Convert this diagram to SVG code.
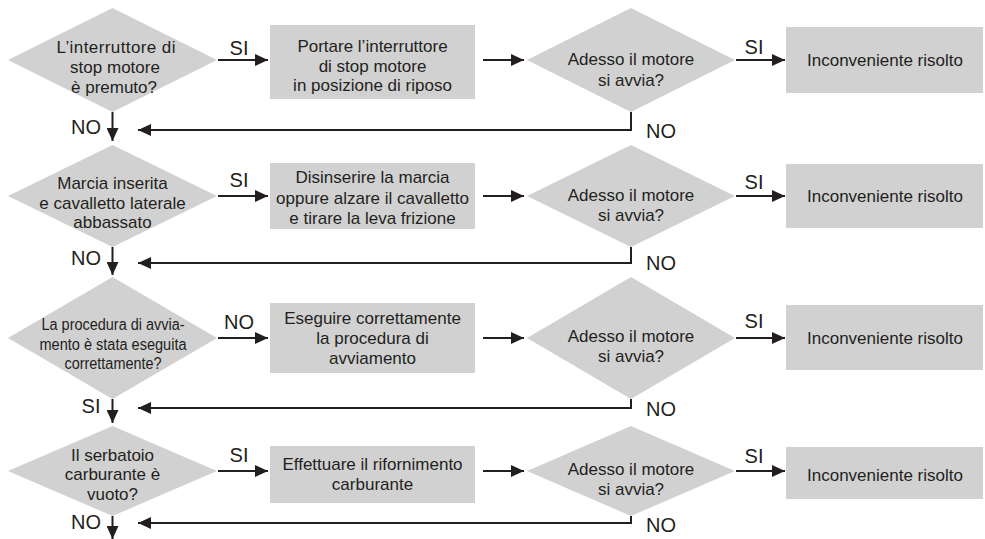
<svg xmlns="http://www.w3.org/2000/svg" width="985" height="539" viewBox="0 0 985 539">
<defs>
<style>
.shape{fill:#d1d1d1;stroke:none}
.t{font-family:"Liberation Sans",Arial,sans-serif;font-size:17px;fill:#231f20;text-anchor:middle}
.c{font-size:16px}
.lbl{font-family:"Liberation Sans",Arial,sans-serif;font-size:20px;fill:#231f20;text-anchor:middle}
.ln{fill:none;stroke:#231f20;stroke-width:2}
</style>
<marker id="ah" markerUnits="userSpaceOnUse" markerWidth="14" markerHeight="12" refX="13" refY="6" orient="auto">
<path d="M0,0 L13,6 L0,12 Z" fill="#231f20"/>
</marker>
</defs>
<rect width="985" height="539" fill="#ffffff"/>

<!-- Row 1 -->
<g id="q1">
<polygon class="shape" points="8,60 112.5,8 217,60 112.5,112"/>
<text class="t" x="116" y="53" textLength="119" lengthAdjust="spacing">L’interruttore di</text>
<text class="t" x="115" y="73">stop motore</text>
<text class="t" x="114" y="93">è premuto?</text>
</g>
<g id="a1">
<rect class="shape" x="270" y="25" width="205" height="74"/>
<text class="t" x="372.5" y="52">Portare l’interruttore</text>
<text class="t" x="372.5" y="72">di stop motore</text>
<text class="t" x="372.5" y="91">in posizione di riposo</text>
</g>
<g id="c1">
<polygon class="shape" points="527,60 631,8 735,60 631,112"/>
<text class="t" x="631" y="65">Adesso il motore</text>
<text class="t" x="631" y="86">si avvia?</text>
</g>
<g id="r1">
<rect class="shape" x="786" y="27" width="197" height="66"/>
<text class="t" x="885" y="66">Inconveniente risolto</text>
</g>

<!-- Row 2 -->
<g id="q2">
<polygon class="shape" points="8,196 112.5,145 217,196 112.5,247"/>
<text class="t" x="112.5" y="189">Marcia inserita</text>
<text class="t" x="112.5" y="209">e cavalletto laterale</text>
<text class="t" x="112.5" y="228">abbassato</text>
</g>
<g id="a2">
<rect class="shape" x="270" y="163" width="205" height="66"/>
<text class="t" x="372.5" y="183">Disinserire la marcia</text>
<text class="t" x="372.5" y="204">oppure alzare il cavalletto</text>
<text class="t" x="372.5" y="224">e tirare la leva frizione</text>
</g>
<g id="c2">
<polygon class="shape" points="527,196 631,145 735,196 631,247"/>
<text class="t" x="631" y="201">Adesso il motore</text>
<text class="t" x="631" y="221">si avvia?</text>
</g>
<g id="r2">
<rect class="shape" x="786" y="164" width="197" height="64"/>
<text class="t" x="885" y="202">Inconveniente risolto</text>
</g>

<!-- Row 3 -->
<g id="q3">
<polygon class="shape" points="8,338 112.5,277 217,338 112.5,399"/>
<text class="t c" x="113" y="330" textLength="143" lengthAdjust="spacingAndGlyphs">La procedura di avvia-</text>
<text class="t c" x="113" y="350" textLength="147" lengthAdjust="spacingAndGlyphs">mento è stata eseguita</text>
<text class="t c" x="113" y="369" textLength="97" lengthAdjust="spacingAndGlyphs">correttamente?</text>
</g>
<g id="a3">
<rect class="shape" x="270" y="303" width="205" height="70"/>
<text class="t" x="372.5" y="324">Eseguire correttamente</text>
<text class="t" x="372.5" y="344">la procedura di</text>
<text class="t" x="372.5" y="364">avviamento</text>
</g>
<g id="c3">
<polygon class="shape" points="527,338 631,277 735,338 631,399"/>
<text class="t" x="631" y="342">Adesso il motore</text>
<text class="t" x="631" y="362">si avvia?</text>
</g>
<g id="r3">
<rect class="shape" x="786" y="305" width="197" height="65"/>
<text class="t" x="885" y="344">Inconveniente risolto</text>
</g>

<!-- Row 4 -->
<g id="q4">
<polygon class="shape" points="8,471 112.5,426 217,471 112.5,516"/>
<text class="t" x="112.5" y="461">Il serbatoio</text>
<text class="t" x="112.5" y="480">carburante è</text>
<text class="t" x="112.5" y="500">vuoto?</text>
</g>
<g id="a4">
<rect class="shape" x="270" y="446" width="205" height="57"/>
<text class="t" x="372.5" y="470">Effettuare il rifornimento</text>
<text class="t" x="372.5" y="490">carburante</text>
</g>
<g id="c4">
<polygon class="shape" points="527,471 631,426 735,471 631,516"/>
<text class="t" x="631" y="475">Adesso il motore</text>
<text class="t" x="631" y="495">si avvia?</text>
</g>
<g id="r4">
<rect class="shape" x="786" y="447" width="197" height="52"/>
<text class="t" x="885" y="481">Inconveniente risolto</text>
</g>

<g id="connectors">
<!-- row 1 -->
<line class="ln" x1="218" y1="60" x2="268" y2="60" marker-end="url(#ah)"/>
<line class="ln" x1="483" y1="60" x2="524" y2="60" marker-end="url(#ah)"/>
<line class="ln" x1="736" y1="60" x2="785" y2="60" marker-end="url(#ah)"/>
<polyline class="ln" points="631,112 631,130 138,130" marker-end="url(#ah)"/>
<line class="ln" x1="112.5" y1="112" x2="112.5" y2="141" marker-end="url(#ah)"/>
<!-- row 2 -->
<line class="ln" x1="218" y1="196" x2="268" y2="196" marker-end="url(#ah)"/>
<line class="ln" x1="483" y1="196" x2="524" y2="196" marker-end="url(#ah)"/>
<line class="ln" x1="736" y1="196" x2="785" y2="196" marker-end="url(#ah)"/>
<polyline class="ln" points="631,247 631,263 138,263" marker-end="url(#ah)"/>
<line class="ln" x1="112.5" y1="247" x2="112.5" y2="275" marker-end="url(#ah)"/>
<!-- row 3 -->
<line class="ln" x1="218" y1="338" x2="268" y2="338" marker-end="url(#ah)"/>
<line class="ln" x1="483" y1="338" x2="524" y2="338" marker-end="url(#ah)"/>
<line class="ln" x1="736" y1="338" x2="785" y2="338" marker-end="url(#ah)"/>
<polyline class="ln" points="631,399 631,408 138,408" marker-end="url(#ah)"/>
<line class="ln" x1="112.5" y1="399" x2="112.5" y2="423" marker-end="url(#ah)"/>
<!-- row 4 -->
<line class="ln" x1="218" y1="471" x2="268" y2="471" marker-end="url(#ah)"/>
<line class="ln" x1="483" y1="471" x2="524" y2="471" marker-end="url(#ah)"/>
<line class="ln" x1="736" y1="471" x2="785" y2="471" marker-end="url(#ah)"/>
<polyline class="ln" points="631,516 631,523 138,523" marker-end="url(#ah)"/>
<line class="ln" x1="112.5" y1="516" x2="112.5" y2="539" marker-end="url(#ah)"/>

<!-- labels -->
<text class="lbl" x="239" y="55">SI</text>
<text class="lbl" x="754" y="54">SI</text>
<text class="lbl" x="86" y="134">NO</text>
<text class="lbl" x="661" y="138">NO</text>

<text class="lbl" x="239" y="187">SI</text>
<text class="lbl" x="754" y="189">SI</text>
<text class="lbl" x="86" y="265">NO</text>
<text class="lbl" x="661" y="270">NO</text>

<text class="lbl" x="239" y="329">NO</text>
<text class="lbl" x="754" y="328">SI</text>
<text class="lbl" x="91" y="413">SI</text>
<text class="lbl" x="661" y="416">NO</text>

<text class="lbl" x="239" y="462">SI</text>
<text class="lbl" x="754" y="463">SI</text>
<text class="lbl" x="86" y="529">NO</text>
<text class="lbl" x="661" y="532">NO</text>
</g>
</svg>
